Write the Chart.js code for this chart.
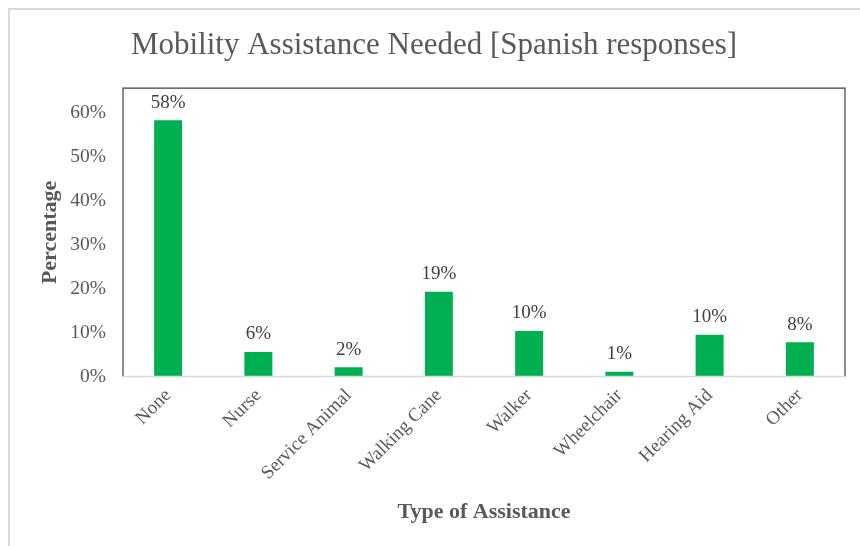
<!DOCTYPE html>
<html>
<head>
<meta charset="utf-8">
<title>Mobility Assistance Needed</title>
<script src="https://cdn.jsdelivr.net/npm/chart.js@4.4.1/dist/chart.umd.min.js"></script>
<style>
  html, body { margin: 0; padding: 0; background: #fff; }
  #wrap { width: 860px; height: 546px; position: relative; }
</style>
</head>
<body>
<div id="wrap"><canvas id="mobility-chart"></canvas></div>
<script>
// ── Datos ─────────────────────────────────────────
const categorias = ['None', 'Nurse', 'Service Animal', 'Walking Cane', 'Walker', 'Wheelchair', 'Hearing Aid', 'Other'];
const porcentajes = [58.4, 5.6, 2.1, 19.3, 10.4, 1.1, 9.5, 7.8];
const ticksY = [0, 10, 20, 30, 40, 50, 60];

const SERIF = "'Liberation Serif', 'Times New Roman', serif";
const GRIS  = '#595959';

// etiquetas de valor encima de cada barra
const etiquetasBarras = {
  id: 'etiquetasBarras',
  afterDatasetsDraw(chart) {
    const ctx = chart.ctx;
    const meta = chart.getDatasetMeta(0);
    ctx.save();
    ctx.font = '19px ' + SERIF;
    ctx.fillStyle = '#404040';
    ctx.textAlign = 'center';
    ctx.textBaseline = 'bottom';
    meta.data.forEach((bar, i) => {
      ctx.fillText(Math.round(porcentajes[i]) + '%', bar.x, bar.y - 8);
    });
    ctx.restore();
  }
};

// borde del área de gráfico y marco exterior
const marcos = {
  id: 'marcos',
  beforeDraw(chart) {
    const ctx = chart.ctx;
    ctx.save();
    ctx.strokeStyle = '#d9d9d9';
    ctx.lineWidth = 2;
    ctx.beginPath();
    ctx.moveTo(9, chart.height);
    ctx.lineTo(9, 9);
    ctx.lineTo(chart.width, 9);
    ctx.stroke();
    ctx.restore();
  },
  afterDraw(chart) {
    const { left, right, top, bottom } = chart.chartArea;
    const ctx = chart.ctx;
    ctx.save();
    ctx.strokeStyle = '#404040';
    ctx.lineWidth = 1.2;
    ctx.beginPath();
    ctx.moveTo(left, bottom);
    ctx.lineTo(left, top);
    ctx.lineTo(right, top);
    ctx.lineTo(right, bottom);
    ctx.stroke();
    ctx.strokeStyle = '#d9d9d9';
    ctx.lineWidth = 1.5;
    ctx.beginPath();
    ctx.moveTo(left, bottom);
    ctx.lineTo(right, bottom);
    ctx.stroke();
    ctx.restore();
  }
};

new Chart(document.getElementById('mobility-chart').getContext('2d'), {
  type: 'bar',
  data: {
    labels: categorias,
    datasets: [{
      label: 'Percentage',
      data: porcentajes,
      backgroundColor: '#00b050',
      borderWidth: 0,
      barPercentage: 0.31,
      categoryPercentage: 1
    }]
  },
  options: {
    responsive: true, maintainAspectRatio: false, animation: false,
    layout: { padding: { top: 20, left: 23, right: 15, bottom: 20 } },
    plugins: {
      legend: { display: false },
      tooltip: { enabled: false },
      title: {
        display: true,
        text: 'Mobility Assistance Needed [Spanish responses]',
        color: GRIS,
        font: { family: SERIF, size: 31, weight: 'normal' },
        padding: { top: 7, bottom: 24 }
      }
    },
    scales: {
      x: {
        // las etiquetas giradas no deben empujar el área del gráfico
        afterFit: s => { s.paddingLeft = 0; s.paddingRight = 0; },
        grid: { display: false, drawTicks: false },
        border: { display: false },
        ticks: {
          color: GRIS, font: { family: SERIF, size: 19 },
          maxRotation: 45, minRotation: 45, padding: 8, autoSkip: false
        },
        title: {
          display: true, text: 'Type of Assistance', color: GRIS,
          font: { family: SERIF, size: 22, weight: 'bold' },
          padding: { top: 7, bottom: 0 }
        }
      },
      y: {
        min: 0, max: 65.7,
        afterBuildTicks: axis => { axis.ticks = ticksY.map(v => ({ value: v })); },
        afterFit: s => { s.width = 100; },
        grid: { display: false, drawTicks: false },
        border: { display: false },
        ticks: {
          color: GRIS, font: { family: SERIF, size: 19.5 }, padding: 17,
          callback: v => v + '%'
        },
        title: {
          display: true, text: 'Percentage', color: GRIS,
          font: { family: SERIF, size: 22, weight: 'bold' },
          padding: { top: 14, bottom: 0 }
        }
      }
    }
  },
  plugins: [etiquetasBarras, marcos]
});
</script>
</body>
</html>
